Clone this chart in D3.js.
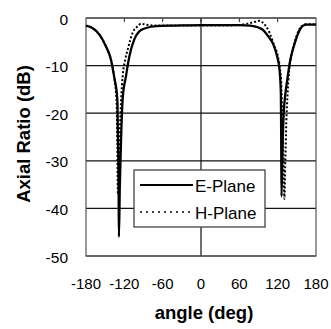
<!DOCTYPE html>
<html>
<head>
<meta charset="utf-8">
<script src="https://cdn.jsdelivr.net/npm/d3@7"></script>
<style>
  body { margin: 0; background: #fff; }
  svg { display: block; font-family: "Liberation Sans", Arial, sans-serif; }
</style>
</head>
<body>
<div id="chart"></div>
<script>
const width = 331
const height = 329
const margin = {top: 18, right: 15, bottom: 73, left: 86}

// angle (deg) / axial ratio (dB)
const eAngle = [-180, -170, -159, -149, -141, -136, -131, -130, -129, -128.5, -127, -125, -122.6, -117.4, -112, -104.4, -96.6, -86, -70, -40, 0, 40, 60, 77, 90, 97, 105, 113, 119, 123, 125, 125.5, 126, 127.5, 129.5, 132, 135, 139, 143, 147, 151, 155, 160, 165, 180]
const eRatio = [-1.6, -2.1, -3.5, -5.9, -8.7, -12.3, -17, -25, -35, -46, -35, -25, -17, -12.2, -8, -4.5, -2.8, -2.1, -1.7, -1.6, -1.5, -1.5, -1.5, -1.6, -2, -2.5, -3.8, -5.5, -8, -11, -16, -25, -37.5, -28, -20, -16, -13, -9.4, -7, -5.2, -3.6, -2.4, -1.6, -1.4, -1.4]

const hAngle = [-180, -170, -159, -149, -141, -136, -132, -131, -130, -128, -126, -125, -122.6, -118.5, -114.7, -107, -99, -94, -86, -70, -30, 30, 60, 75, 85, 92, 97, 102, 107, 112, 116, 118.4, 121, 123.6, 126, 127.5, 129, 130.5, 132, 133.5, 135.5, 138, 141, 145, 149, 153, 158, 163, 180]
const hRatio = [-1.6, -2.1, -3.5, -5.9, -8.7, -12.3, -18, -27, -37, -28, -20, -17, -12.2, -8.7, -6.6, -3.1, -1.7, -1.2, -1.4, -1.6, -1.6, -1.6, -1.5, -1.1, -0.8, -0.6, -1, -1.8, -3, -4.8, -6.3, -7, -8.5, -10.5, -15, -22, -30, -38, -30, -22, -16, -11, -8, -5.8, -4, -2.6, -1.7, -1.3, -1.3]

const xTicks = [-180, -120, -60, 0, 60, 120, 180]
const yTicks = [0, -10, -20, -30, -40, -50]
const seriesNames = ["E-Plane", "H-Plane"]

const eData = eAngle.map((a, i) => ({x: a, y: eRatio[i]}))
const hData = hAngle.map((a, i) => ({x: a, y: hRatio[i]}))

const x = d3.scaleLinear().domain([-180, 180]).range([margin.left, width - margin.right])
const y = d3.scaleLinear().domain([-50, 0]).range([height - margin.bottom, margin.top])

const svg = d3.select("#chart").append("svg")
  .attr("width", width)
  .attr("height", height)

// horizontal grid
svg.append("g")
  .selectAll("line")
  .data(yTicks)
  .join("line")
    .attr("x1", x(-180)).attr("x2", x(180))
    .attr("y1", d => y(d)).attr("y2", d => y(d))
    .attr("stroke", "#111").attr("stroke-width", 1.2)

// vertical grid only at 0
svg.append("line")
  .attr("x1", x(0)).attr("x2", x(0))
  .attr("y1", y(0)).attr("y2", y(-50))
  .attr("stroke", "#111").attr("stroke-width", 1.2)

// small inward ticks on the top edge
svg.append("g")
  .selectAll("line")
  .data(xTicks.slice(1, -1))
  .join("line")
    .attr("x1", d => x(d)).attr("x2", d => x(d))
    .attr("y1", y(0)).attr("y2", y(0) + 4)
    .attr("stroke", "#222")

// frame
svg.append("rect")
  .attr("x", x(-180)).attr("y", y(0))
  .attr("width", x(180) - x(-180)).attr("height", y(-50) - y(0))
  .attr("fill", "none").attr("stroke", "#555").attr("stroke-width", 1.2)

// tick labels
svg.append("g")
  .selectAll("text")
  .data(yTicks)
  .join("text")
    .attr("x", 68).attr("y", d => y(d) + 1)
    .attr("text-anchor", "end")
    .attr("dominant-baseline", "central")
    .attr("font-size", 15.5)
    .text(d => d)

svg.append("g")
  .selectAll("text")
  .data(xTicks)
  .join("text")
    .attr("x", d => x(d)).attr("y", 289)
    .attr("text-anchor", "middle")
    .attr("font-size", 15)
    .text(d => d)

// axis titles
svg.append("text")
  .attr("transform", `translate(23,134) rotate(-90)`)
  .attr("text-anchor", "middle")
  .attr("dominant-baseline", "central")
  .attr("font-size", 18.5)
  .attr("font-weight", "bold")
  .text("Axial Ratio (dB)")

svg.append("text")
  .attr("x", 204).attr("y", 319)
  .attr("text-anchor", "middle")
  .attr("font-size", 18.5)
  .attr("font-weight", "bold")
  .text("angle (deg)")

// curves
const line = d3.line()
  .x(d => x(d.x))
  .y(d => y(d.y))
  .curve(d3.curveMonotoneX)

svg.append("path")
  .datum(hData)
  .attr("d", line)
  .attr("fill", "none")
  .attr("stroke", "#000")
  .attr("stroke-width", 2)
  .attr("stroke-dasharray", "2,2")

svg.append("path")
  .datum(eData)
  .attr("d", line)
  .attr("fill", "none")
  .attr("stroke", "#000")
  .attr("stroke-width", 2.3)

// legend
const legend = svg.append("g").attr("transform", "translate(134,170)")
legend.append("rect")
  .attr("width", 131).attr("height", 57)
  .attr("fill", "#fff").attr("stroke", "#444").attr("stroke-width", 1.3)

const rows = legend.selectAll("g")
  .data(seriesNames)
  .join("g")
    .attr("transform", (d, i) => `translate(0,${15 + i * 27})`)

rows.append("line")
  .attr("x1", 6).attr("x2", 59)
  .attr("stroke", "#000")
  .attr("stroke-width", (d, i) => i ? 1.6 : 1.8)
  .attr("stroke-dasharray", (d, i) => i ? "2,4" : null)

rows.append("text")
  .attr("x", 61).attr("y", 1)
  .attr("dominant-baseline", "central")
  .attr("font-size", 17)
  .text(d => d)
</script>
</body>
</html>
